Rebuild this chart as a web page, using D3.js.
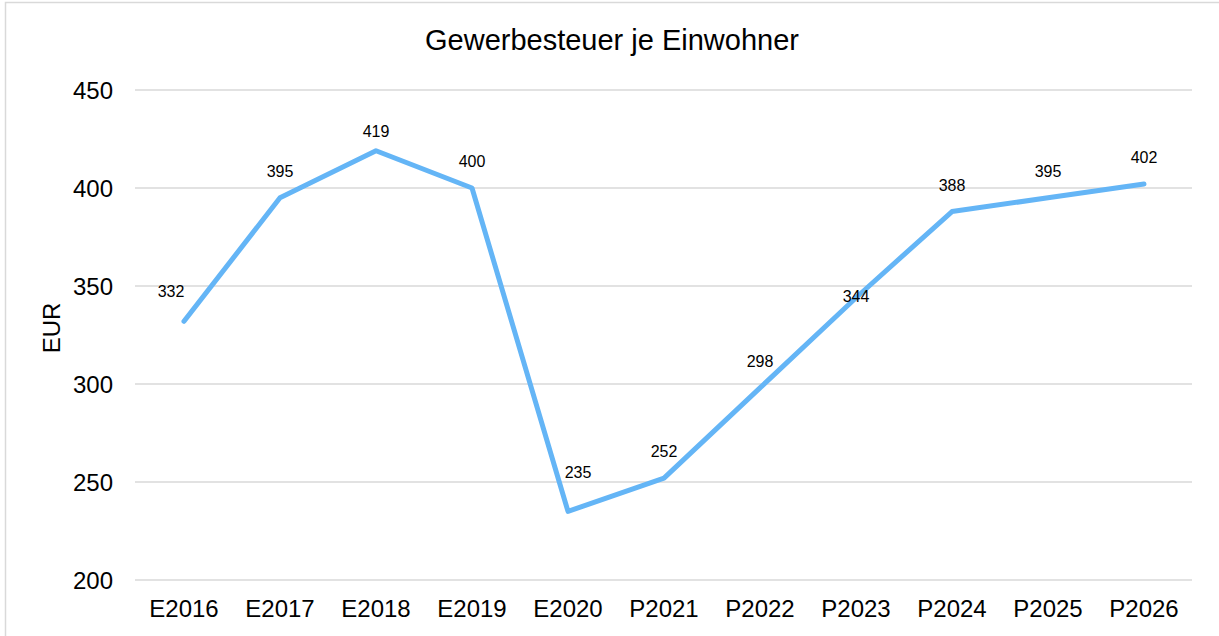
<!DOCTYPE html>
<html lang="de">
<head>
<meta charset="UTF-8">
<title>Gewerbesteuer je Einwohner</title>
<script src="https://d3js.org/d3.v7.min.js"></script>
<style>
    body { margin: 0; background: #fff; }
    svg text { font-family: "Liberation Sans", Arial, sans-serif; fill: #000; }
</style>
</head>
<body>
<svg id="chart" width="1219" height="636"></svg>
<script>
    const categories = ['E2016', 'E2017', 'E2018', 'E2019', 'E2020', 'P2021', 'P2022', 'P2023', 'P2024', 'P2025', 'P2026'];
    const values = [332, 395, 419, 400, 235, 252, 298, 344, 388, 395, 402];
    const yTicks = [200, 250, 300, 350, 400, 450];

    // small nudges for labels that Excel moved away from the line
    const labelNudge = { 'E2016': [-13, -3], 'E2018': [0, 7], 'E2020': [10, -12], 'P2023': [0, 25] };

    const svg = d3.select('#chart');

    // outer chart border
    svg.append('rect')
        .attr('x', 5.5).attr('y', 2.5)
        .attr('width', 1230).attr('height', 650)
        .attr('fill', 'none')
        .attr('stroke', '#d9d9d9')
        .attr('stroke-width', 1.5);

    const x = d3.scalePoint()
        .domain(categories)
        .range([184, 1144]);

    const y = d3.scaleLinear()
        .domain([200, 450])
        .range([580, 90]);

    // gridlines
    svg.append('g')
        .selectAll('line')
        .data(yTicks)
        .join('line')
        .attr('x1', 135).attr('x2', 1192)
        .attr('y1', d => y(d)).attr('y2', d => y(d))
        .attr('stroke', '#d9d9d9')
        .attr('stroke-width', 1.5);

    // y axis labels
    svg.append('g')
        .selectAll('text')
        .data(yTicks)
        .join('text')
        .attr('x', 113)
        .attr('y', d => y(d) + 8.5)
        .attr('text-anchor', 'end')
        .attr('font-size', 24)
        .text(d => d);

    // x axis labels
    svg.append('g')
        .selectAll('text')
        .data(categories)
        .join('text')
        .attr('x', d => x(d))
        .attr('y', 617)
        .attr('text-anchor', 'middle')
        .attr('font-size', 24)
        .text(d => d);

    // title
    svg.append('text')
        .attr('x', 612).attr('y', 50)
        .attr('text-anchor', 'middle')
        .attr('font-size', 29)
        .text('Gewerbesteuer je Einwohner');

    // axis title
    svg.append('text')
        .attr('transform', 'translate(60,328) rotate(-90)')
        .attr('text-anchor', 'middle')
        .attr('font-size', 24)
        .text('EUR');

    const line = d3.line()
        .x((d, i) => x(categories[i]))
        .y(d => y(d));

    svg.append('path')
        .datum(values)
        .attr('d', line)
        .attr('fill', 'none')
        .attr('stroke', '#64b5f6')
        .attr('stroke-width', 5)
        .attr('stroke-linejoin', 'round')
        .attr('stroke-linecap', 'round');

    // data labels
    svg.append('g')
        .selectAll('text')
        .data(values)
        .join('text')
        .attr('x', (d, i) => x(categories[i]) + (labelNudge[categories[i]] || [0, 0])[0])
        .attr('y', (d, i) => y(d) - 21 + (labelNudge[categories[i]] || [0, 0])[1])
        .attr('text-anchor', 'middle')
        .attr('font-size', 16)
        .text(d => d);
</script>
</body>
</html>
